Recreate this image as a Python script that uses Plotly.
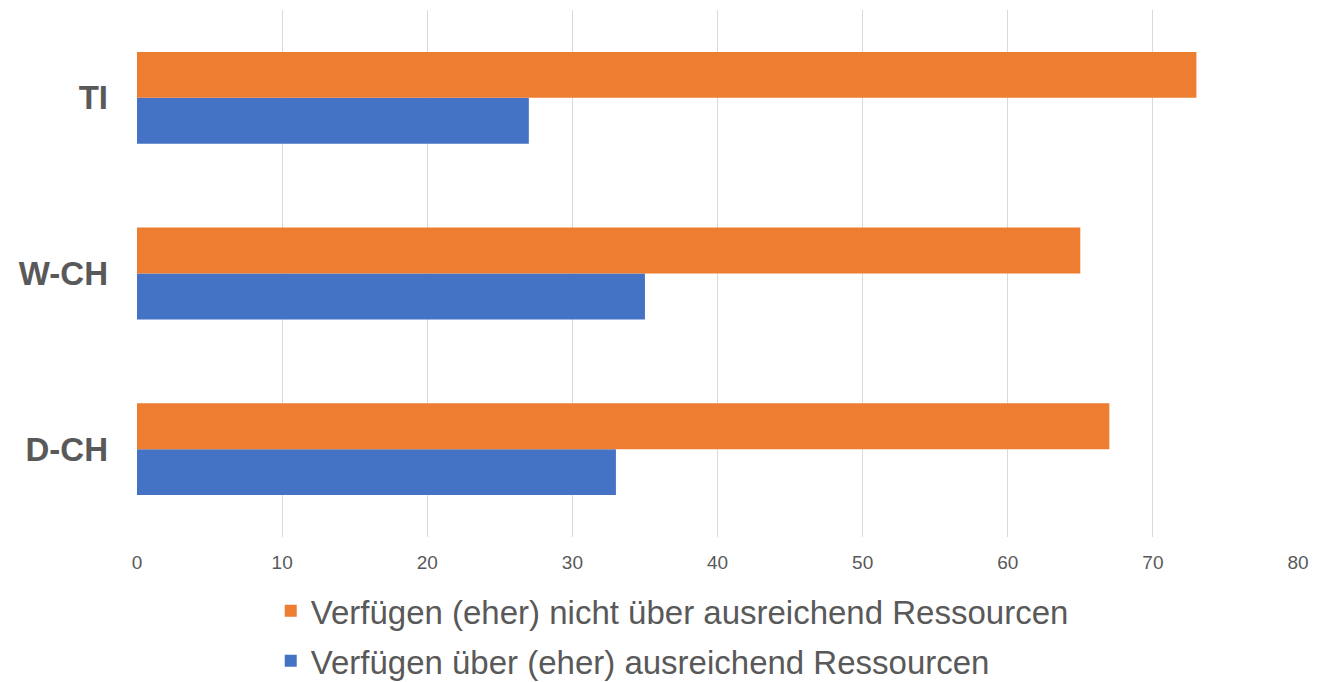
import plotly.graph_objects as go

categories = ["D-CH", "W-CH", "TI"]
name_yes = "Verfügen über (eher) ausreichend Ressourcen"
name_no = "Verfügen (eher) nicht über ausreichend Ressourcen"
values_yes = [33, 35, 27]
values_no = [67, 65, 73]

fig = go.Figure()
fig.add_trace(go.Bar(y=categories, x=values_yes, name=name_yes, orientation="h",
                     marker=dict(color="#4472C4", line=dict(width=0)),
                     legendrank=2, legendgroup="yes"))
fig.add_trace(go.Bar(y=categories, x=values_no, name=name_no, orientation="h",
                     marker=dict(color="#ED7D31", line=dict(width=0)),
                     legendrank=1, legendgroup="no"))

fig.update_layout(
    width=1328, height=682,
    margin=dict(l=129, r=38, t=2, b=152),
    paper_bgcolor="white", plot_bgcolor="white",
    barmode="group", bargap=0.477, bargroupgap=0,
    font=dict(family="Liberation Sans, Arial, sans-serif", color="#595959"),
    xaxis=dict(range=[0, 80], dtick=10, showgrid=True, gridcolor="#D9D9D9", gridwidth=1,
               zeroline=False, showline=False, tickfont=dict(size=19, color="#595959"),
               ticklabelstandoff=12, fixedrange=True),
    yaxis=dict(showgrid=False, zeroline=False, showline=False,
               tickfont=dict(size=33, color="#595959", family="Liberation Sans, Arial, sans-serif", weight="bold"),
               ticklabelstandoff=28, range=[-0.5, 2.5]),
    legend=dict(orientation="v", x=0.461, xanchor="center", y=-0.085, yanchor="top",
                font=dict(size=33, color="#595959"), tracegroupgap=4,
                traceorder="grouped", itemwidth=30),
    showlegend=True,
)

fig.write_html("out.html")
